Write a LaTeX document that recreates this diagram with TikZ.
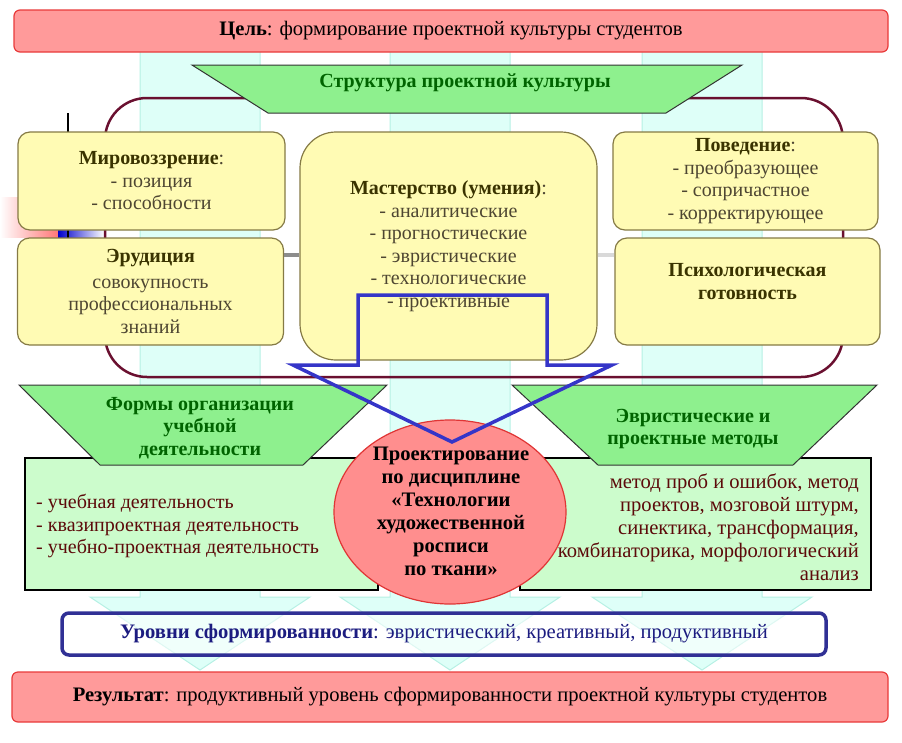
\documentclass[tikz,border=0pt]{standalone}
\usepackage{fontspec}
\setmainfont{Liberation Serif}
\usetikzlibrary{shapes.geometric,calc}
\definecolor{goalfill}{HTML}{FF9A9A}
\definecolor{goaldraw}{HTML}{E83A3A}
\definecolor{trapfill}{HTML}{8EF08E}
\definecolor{trapdraw}{HTML}{333333}
\definecolor{traptext}{HTML}{006400}
\definecolor{yfill}{HTML}{FFFBB4}
\definecolor{ydraw}{HTML}{857A45}
\definecolor{ybold}{HTML}{3A3300}
\definecolor{ytext}{HTML}{4E4632}
\definecolor{bigdraw}{HTML}{6A1030}
\definecolor{lgfill}{HTML}{CCFCCC}
\definecolor{lgtext}{HTML}{5C0A0A}
\definecolor{circfill}{HTML}{FF8E8E}
\definecolor{circdraw}{HTML}{E03535}
\definecolor{bluearrow}{HTML}{3535C8}
\definecolor{lvldraw}{HTML}{303095}
\definecolor{lvltext}{HTML}{1C1C80}
\definecolor{colfill}{HTML}{DEFFF8}
\definecolor{coldraw}{HTML}{B6F0E4}
\newcommand\bodyfont{\fontsize{20}{22.5}\selectfont}
\newcommand\widefont{\fontsize{20.6}{23}\selectfont}
\newcommand\circfont{\fontsize{20.6}{23}\selectfont}
\begin{document}
\begin{tikzpicture}[x=1pt,y=-1pt,
  colarrow/.style={fill=colfill,draw=coldraw,line width=1pt},
  redbox/.style={draw=goaldraw,fill=goalfill,line width=1.2pt,rounded corners=6pt,inner sep=0pt,align=center,font=\widefont},
  trapshape/.style={fill=trapfill,draw=trapdraw,line width=1pt},
  traplabel/.style={text=traptext,font=\bodyfont\bfseries,align=center},
  ybox/.style={draw=ydraw,fill=yfill,line width=1.2pt,rounded corners=12pt,inner sep=0pt,align=center,font=\bodyfont,text=ytext},
  lgbox/.style={draw=black,fill=lgfill,line width=1.2pt,inner sep=0pt},
  lgtxt/.style={text=lgtext,font=\bodyfont},
  plain/.style={inner sep=0pt}]
\useasboundingbox (0,0) rectangle (902,742);
% background columns (block arrows)
\foreach \cx in {200,450,702}{
  \draw[colarrow] ({\cx-60},40) -- ({\cx+60},40) -- ({\cx+60},597) -- ({\cx+110},597)
     -- (\cx,670) -- ({\cx-110},597) -- ({\cx-60},597) -- cycle;
}
% left artifacts
\shade[left color=white,right color=red!55] (0,197) rectangle (60,237);
\shade[left color=blue!80!black,right color=white] (58,230) rectangle (104,237);
\draw[black,line width=2pt] (68,113) -- (68,133);
\draw[black,line width=2pt] (68,229) -- (68,238);
% big maroon frame
\draw[bigdraw,line width=2.5pt,rounded corners=42pt] (105,98) rectangle (843,377);
% goal
\node[redbox,minimum width=874pt,minimum height=42pt] (goal) at (451,31)
  {\textbf{Цель}: формирование проектной культуры студентов};
% top trapezoid
\draw[trapshape] (192,65) -- (742,65) -- (666,113) -- (268,113) -- cycle;
\node[traplabel] (struct) at (465,83) {Структура проектной культуры};
% yellow boxes
\node[ybox,minimum width=267pt,minimum height=98pt] (mir) at (151.5,181)
  {\textcolor{ybold}{\textbf{Мировоззрение}}:\\- позиция\\- способности};
\node[ybox,minimum width=266pt,minimum height=107pt] (eru) at (150.5,291.5)
  {\textcolor{ybold}{\textbf{Эрудиция}}\\[3pt]совокупность\\профессиональных\\знаний};
\node[ybox,rounded corners=36pt,minimum width=297pt,minimum height=228pt] (mast) at (448.5,246)
  {\textcolor{ybold}{\textbf{Мастерство (умения)}}:\\- аналитические\\- прогностические\\- эвристические\\- технологические\\- проективные};
\node[ybox,minimum width=265pt,minimum height=98pt] (pov) at (745.5,181)
  {\textcolor{ybold}{\textbf{Поведение}}:\\- преобразующее\\- сопричастное\\- корректирующее};
\node[ybox,minimum width=265pt,minimum height=107pt] (psy) at (747.5,291.5) {};
\node[plain,align=center,font=\bodyfont\bfseries,text=ybold] (psytxt) at (747.5,281.5)
  {Психологическая\\готовность};
% connectors
\draw[gray!90,line width=4.5pt] (eru.east |- {(0,255)}) -- (mast.west |- {(0,255)});
\draw[gray!30,line width=4.5pt] (mast.east |- {(0,255)}) -- (psy.west |- {(0,255)});
% lower boxes
\node[lgbox,minimum width=353pt,minimum height=132pt] (formbox) at (201.5,524) {};
\node[lgbox,minimum width=351pt,minimum height=132pt] (methbox) at (695.5,524) {};
% lower trapezoids
\draw[trapshape] (19,385) -- (387,385) -- (303,465) -- (100,465) -- cycle;
\node[traplabel] (forms) at (200,428) {Формы организации\\учебной\\деятельности};
\draw[trapshape] (512,385) -- (877,385) -- (793,465) -- (598,465) -- cycle;
\node[traplabel] (meth) at (693,429) {Эвристические и\\проектные методы};
% circle
\node[ellipse,draw=circdraw,fill=circfill,line width=1.2pt,minimum width=232pt,minimum height=184pt,inner sep=0pt] (circ) at (450,512) {};
% blue block arrow outline
\draw[bluearrow,line width=3.5pt,line join=miter] (358,295) -- (547,295) -- (547,365) -- (612,365)
   -- (452,442) -- (293,365) -- (358,365) -- cycle;
\node[plain,align=center,font=\circfont\bfseries] (circtxt) at (451,511)
  {Проектирование\\по дисциплине\\«Технологии\\художественной\\росписи\\по ткани»};
% lower box texts
\node[lgtxt,plain,anchor=west,align=left] (formtxt) at (36,526)
  {- учебная деятельность\\- квазипроектная деятельность\\- учебно-проектная деятельность};
\node[lgtxt,plain,anchor=east,align=right,font=\circfont] (methtxt) at (859,527.5)
  {метод проб и ошибок, метод\\проектов, мозговой штурм,\\синектика, трансформация,\\комбинаторика, морфологический\\анализ};
% levels
\node[draw=lvldraw,fill=white,fill opacity=0.55,text opacity=1,line width=3.5pt,rounded corners=7pt,minimum width=764pt,minimum height=42pt,inner sep=0pt,font=\widefont,text=lvltext] (lvl) at (444,634)
  {\textbf{Уровни сформированности}: эвристический, креативный, продуктивный};
% result
\node[redbox,minimum width=876pt,minimum height=50pt] (res) at (450,697)
  {\textbf{Результат}: продуктивный уровень сформированности проектной культуры студентов};
\end{tikzpicture}
\end{document}
